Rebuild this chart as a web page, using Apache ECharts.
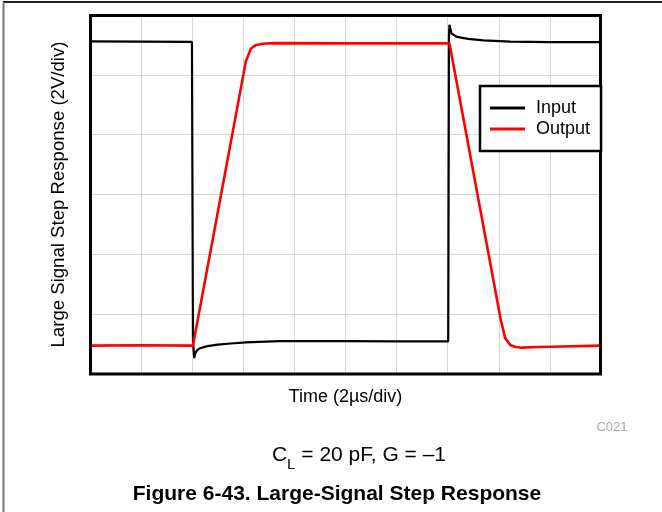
<!DOCTYPE html>
<html><head><meta charset="utf-8">
<script src="https://cdn.jsdelivr.net/npm/echarts@6/dist/echarts.min.js"></script>
<style>html,body{margin:0;padding:0;background:#fff}#c{width:662px;height:512px}</style>
</head><body><div id="c"></div>
<script>
// Time in µs (2 µs/div), voltage in V (2 V/div)
const xMin = 0, xMax = 20, xStep = 2;
const yMin = -6, yMax = 6, yStep = 2;
const seriesNames = ['Input', 'Output'];

const inputTime = [0, 2, 3.99, 4.03, 4.08, 4.12, 4.2, 4.3, 4.6, 5.0, 5.5, 6.1, 7.4, 10, 12, 14.02, 14.05, 14.07, 14.15, 14.36, 14.8, 15.4, 16.45, 18, 20];
const inputVolt = [5.12, 5.11, 5.10, -4.9, -5.47, -5.3, -5.2, -5.14, -5.07, -5.02, -4.98, -4.94, -4.90, -4.90, -4.91, -4.91, 5.3, 5.67, 5.38, 5.27, 5.2, 5.15, 5.11, 5.09, 5.09];

const outputTime = [0, 2, 4.03, 6.1, 6.3, 6.5, 6.75, 7.2, 10, 12, 14.07, 16.08, 16.25, 16.45, 16.65, 16.9, 17.5, 18.02, 20];
const outputVolt = [-5.05, -5.04, -5.05, 4.45, 4.88, 5.0, 5.04, 5.06, 5.05, 5.05, 5.05, -4.2, -4.8, -5.03, -5.1, -5.12, -5.1, -5.09, -5.05];

const zip = (a, b) => a.map((t, i) => [t, b[i]]);
const FONT = '"Liberation Sans", Arial, sans-serif';

const chart = echarts.init(document.getElementById('c'), null, {renderer: 'canvas'});
chart.setOption({
  animation: false,
  backgroundColor: '#fff',
  grid: {left: 90, top: 15, width: 511, height: 359, show: false},
  legend: {
    data: seriesNames,
    orient: 'vertical', left: 480, top: 86, z: 10,
    icon: 'rect',
    padding: [13, 11, 13, 10], itemGap: 3, itemWidth: 35, itemHeight: 3,
    backgroundColor: '#fff', borderColor: '#000', borderWidth: 2.5, borderRadius: 0,
    textStyle: {fontSize: 18, fontFamily: FONT, color: '#000', padding: [0, 0, 0, 6], lineHeight: 18}
  },
  xAxis: {
    type: 'value', min: xMin, max: xMax, interval: xStep,
    name: 'Time (2µs/div)', nameLocation: 'middle', nameGap: 14,
    nameTextStyle: {fontSize: 18, fontFamily: FONT, color: '#000'},
    axisLine: {show: false}, axisTick: {show: false}, axisLabel: {show: false},
    splitLine: {show: true, lineStyle: {color: '#d6d6d6', width: 1}}
  },
  yAxis: {
    type: 'value', min: yMin, max: yMax, interval: yStep,
    name: 'Large Signal Step Response (2V/div)', nameLocation: 'middle', nameGap: 22, nameRotate: 90,
    nameTextStyle: {fontSize: 18.6, fontFamily: FONT, color: '#000'},
    axisLine: {show: false}, axisTick: {show: false}, axisLabel: {show: false},
    splitLine: {show: true, lineStyle: {color: '#d6d6d6', width: 1}}
  },
  series: [
    {name: seriesNames[0], type: 'line', symbol: 'none', data: zip(inputTime, inputVolt),
     lineStyle: {color: '#000', width: 2.2}, itemStyle: {color: '#000'}},
    {name: seriesNames[1], type: 'line', symbol: 'none', data: zip(outputTime, outputVolt),
     lineStyle: {color: '#ff0000', width: 2.6}, itemStyle: {color: '#ff0000'}}
  ],
  graphic: [
    {type: 'rect', z: 5, silent: true, shape: {x: 90.5, y: 15.5, width: 510, height: 358.5}, style: {fill: 'none', stroke: '#000', lineWidth: 3}},
    {type: 'line', shape: {x1: 3, y1: 2, x2: 662, y2: 2}, style: {stroke: '#222', lineWidth: 2}},
    {type: 'line', shape: {x1: 3.5, y1: 2, x2: 3.5, y2: 512}, style: {stroke: '#777', lineWidth: 2}},
    {type: 'text', x: 612, y: 427, style: {text: 'C021', font: '13px ' + FONT, fill: '#aaa', textAlign: 'center', textVerticalAlign: 'middle'}},
    {type: 'text', x: 359, y: 460, style: {
      text: '{m|C}{s|L}{m| = 20 pF, G = –1}',
      textAlign: 'center', textVerticalAlign: 'middle',
      rich: {
        m: {fontSize: 21, fontFamily: FONT, fill: '#000', lineHeight: 30, verticalAlign: 'top', padding: [0,0,0,0]},
        s: {fontSize: 15, fontFamily: FONT, fill: '#000', lineHeight: 15, verticalAlign: 'top', padding: [12,0,0,0]}
      }
    }},
    {type: 'text', x: 337, y: 494, style: {text: 'Figure 6-43. Large-Signal Step Response', font: 'bold 21px ' + FONT, fill: '#000', textAlign: 'center', textVerticalAlign: 'middle'}}
  ]
});
</script></body></html>
